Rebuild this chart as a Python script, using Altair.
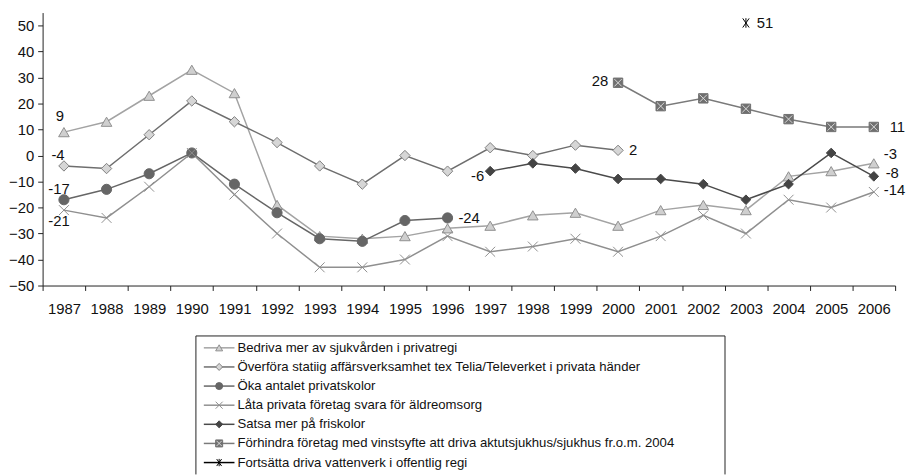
import altair as alt
import pandas as pd

# ---------------- data ----------------
years = [str(y) for y in range(1987, 2007)]
N = None
bedriva = [9, 13, 23, 33, 24, -19, -31, -32, -31, -28, -27, -23, -22, -27, -21, -19, -21, -8, -6, -3]
overfora = [-4, -5, 8, 21, 13, 5, -4, -11, 0, -6, 3, 0, 4, 2, N, N, N, N, N, N]
oka = [-17, -13, -7, 1, -11, -22, -32, -33, -25, -24, N, N, N, N, N, N, N, N, N, N]
lata = [-21, -24, -12, 1, -15, -30, -43, -43, -40, -31, -37, -35, -32, -37, -31, -23, -30, -17, -20, -14]
satsa = [N, N, N, N, N, N, N, N, N, N, -6, -3, -5, -9, -9, -11, -17, -11, 1, -8]
forhindra = [N, N, N, N, N, N, N, N, N, N, N, N, N, 28, 19, 22, 18, 14, 11, 11]
fortsatta = [N, N, N, N, N, N, N, N, N, N, N, N, N, N, N, N, 51, N, N, N]

series_names = [
    "Bedriva mer av sjukvården i privatregi",
    "Överföra statiig affärsverksamhet tex Telia/Televerket i privata händer",
    "Öka antalet privatskolor",
    "Låta privata företag svara för äldreomsorg",
    "Satsa mer på friskolor",
    "Förhindra företag med vinstsyfte att driva aktutsjukhus/sjukhus fr.o.m. 2004",
    "Fortsätta driva vattenverk i offentlig regi",
]
series_values = [bedriva, overfora, oka, lata, satsa, forhindra, fortsatta]

rows = []
for name, vals in zip(series_names, series_values):
    for yr, v in zip(years, vals):
        if v is not None:
            rows.append({"series": name, "year": yr, "value": v, "label": str(v)})
df = pd.DataFrame(rows)

# ---------------- styles ----------------
X_PATH = "M-1,-1L1,1M-1,1L1,-1"
AST_PATH = "M-0.7,-1L0.7,1M-0.7,1L0.7,-1M0,-1.05L0,1.05"
line_colors = ["#a3a3a3", "#6e6e6e", "#666666", "#8f8f8f", "#4a4a4a", "#7a7a7a", "#000000"]
marker_fill = ["#cfcfcf", "#d6d6d6", "#666666", "transparent", "#444444", "#707070", "transparent"]
marker_stroke = ["#8f8f8f", "#7f7f7f", "#666666", "#8f8f8f", "#444444", "#707070", "#000000"]
shapes = ["triangle-up", "diamond", "circle", X_PATH, "diamond", "square", AST_PATH]
sizes = [115, 85, 75, 130, 80, 105, 110]

FONT = "Liberation Sans"
W, H = 862, 276
LEG_H = 140

color_scale = alt.Scale(domain=series_names, range=line_colors)
fill_scale = alt.Scale(domain=series_names, range=marker_fill)
stroke_scale = alt.Scale(domain=series_names, range=marker_stroke)
shape_scale = alt.Scale(domain=series_names, range=shapes)
size_scale = alt.Scale(domain=series_names, range=sizes)

x_enc = alt.X(
    "year:O",
    bandPosition=0.5,
    scale=alt.Scale(type="band", domain=years, paddingInner=0, paddingOuter=0),
    axis=alt.Axis(title=None, labelAngle=0, tickBand="extent", tickSize=5,
                  labelPadding=11, grid=False),
)
y_enc = alt.Y(
    "value:Q",
    scale=alt.Scale(domain=[-50, 55], nice=False, zero=False),
    axis=alt.Axis(title=None, values=list(range(-50, 51, 10)), tickSize=5,
                  labelPadding=4, grid=False),
)

base = alt.Chart(df)

lines = base.mark_line(strokeWidth=1.5).encode(
    x=x_enc, y=y_enc,
    color=alt.Color("series:N", scale=color_scale, legend=None),
)
points = base.mark_point(opacity=1, strokeWidth=1).encode(
    x=x_enc, y=y_enc,
    shape=alt.Shape("series:N", scale=shape_scale, legend=None),
    fill=alt.Fill("series:N", scale=fill_scale, legend=None),
    stroke=alt.Stroke("series:N", scale=stroke_scale, legend=None),
    size=alt.Size("series:N", scale=size_scale, legend=None),
)
cross_overlay = base.mark_point(
    shape=X_PATH, size=55, stroke="#d9d9d9", fill="transparent", strokeWidth=1, opacity=1
).encode(x=x_enc, y=y_enc).transform_filter(alt.datum.series == series_names[5])

# label placement: (series index, year, dx, dy, align)
label_specs = [
    (0, "1987", -4, -16, "center"),
    (1, "1987", -6, -11, "center"),
    (2, "1987", -5, -11, "center"),
    (3, "1987", -5, 11, "center"),
    (2, "1996", 11, 0, "left"),
    (1, "2000", 11, 0, "left"),
    (5, "2000", -10, -2, "right"),
    (4, "1997", -6, 5, "right"),
    (6, "2003", 11, 0, "left"),
    (5, "2006", 16, 0, "left"),
    (0, "2006", 10, -9, "left"),
    (4, "2006", 12, -3, "left"),
    (3, "2006", 10, -2, "left"),
]
label_layers = []
for si, yr, dx, dy, al in label_specs:
    label_layers.append(
        base.mark_text(dx=dx, dy=dy, align=al, baseline="middle", fontSize=15,
                       font=FONT, color="#111111")
        .encode(x=x_enc, y=y_enc, text="label:N")
        .transform_filter((alt.datum.series == series_names[si]) & (alt.datum.year == yr))
    )

top = alt.layer(lines, points, cross_overlay, *label_layers).properties(width=W, height=H)

# ---------------- legend panel ----------------
leg_df = pd.DataFrame({"series": series_names})
ly = alt.Y("series:N",
           scale=alt.Scale(type="point", domain=series_names, range=[12, 128], padding=0),
           axis=None)
one = pd.DataFrame({"a": [0]})
BOX_L, BOX_R = 155, 690
box_top = alt.Chart(one).mark_rule(stroke="#222222", strokeWidth=1).encode(
    x=alt.value(BOX_L), x2=alt.value(BOX_R), y=alt.value(0))
box_left = alt.Chart(one).mark_rule(stroke="#222222", strokeWidth=1).encode(
    x=alt.value(BOX_L), y=alt.value(0), y2=alt.value(LEG_H))
box_right = alt.Chart(one).mark_rule(stroke="#222222", strokeWidth=1).encode(
    x=alt.value(BOX_R), y=alt.value(0), y2=alt.value(LEG_H))
leg_line = alt.Chart(leg_df).mark_rule(strokeWidth=1.5).encode(
    x=alt.value(163), x2=alt.value(194), y=ly,
    color=alt.Color("series:N", scale=color_scale, legend=None),
)
leg_pt = alt.Chart(leg_df).mark_point(opacity=1, strokeWidth=1, size=50).encode(
    x=alt.value(178.5), y=ly,
    shape=alt.Shape("series:N", scale=shape_scale, legend=None),
    fill=alt.Fill("series:N", scale=fill_scale, legend=None),
    stroke=alt.Stroke("series:N", scale=stroke_scale, legend=None),
)
leg_cross = alt.Chart(leg_df).mark_point(
    shape=X_PATH, size=28, stroke="#d9d9d9", fill="transparent", strokeWidth=1, opacity=1
).encode(x=alt.value(178.5), y=ly).transform_filter(alt.datum.series == series_names[5])
leg_txt = alt.Chart(leg_df).mark_text(
    align="left", baseline="middle", fontSize=13.3, font=FONT, color="#111111"
).encode(x=alt.value(197), y=ly, text="series:N")

legend = alt.layer(box_top, box_left, box_right, leg_line, leg_pt, leg_cross, leg_txt).properties(
    width=W, height=LEG_H)

chart = (
    alt.vconcat(top, legend, spacing=19)
    .properties(padding={"left": 0, "top": 2, "right": 0, "bottom": 0})
    .configure_view(stroke=None)
    .configure_axis(labelFont=FONT, labelFontSize=15, labelColor="#111111",
                    domainColor="#222222", tickColor="#222222", domainWidth=1, tickWidth=1)
    .configure_text(font=FONT)
)

chart.save("out.html", embed_options={"renderer": "svg", "actions": False})
